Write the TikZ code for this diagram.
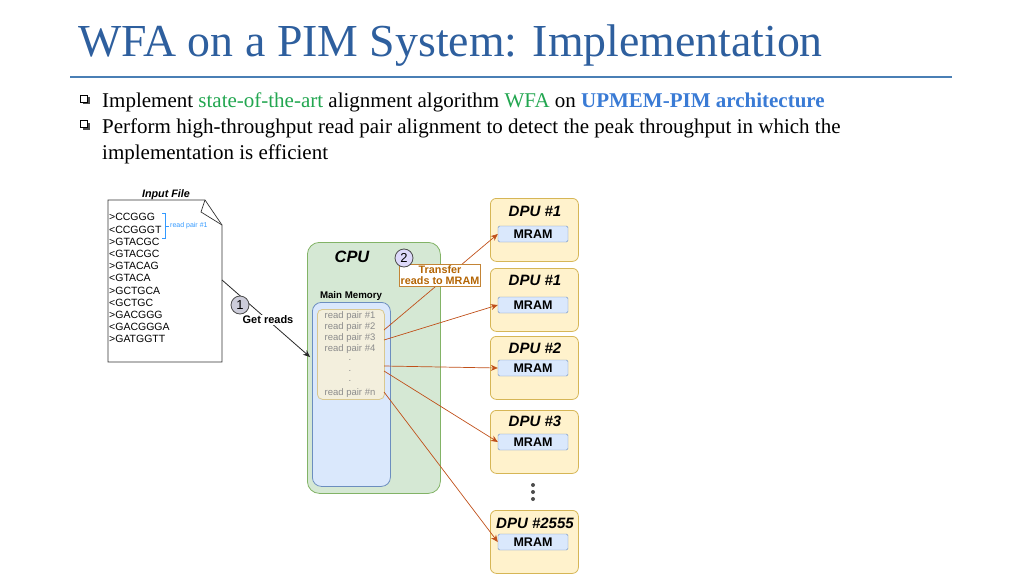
\documentclass[tikz,border=0pt]{standalone}
\usepackage{fontspec}
\setmainfont{Liberation Serif}
\newfontfamily\dsans{Liberation Sans}
\usetikzlibrary{arrows.meta}
\definecolor{ttl}{HTML}{2E5F9E}
\definecolor{rule}{HTML}{4A7FB5}
\definecolor{grn}{HTML}{22A650}
\definecolor{ublue}{HTML}{3A7BD5}
\definecolor{cpuf}{HTML}{D5E8D4}\definecolor{cpud}{HTML}{82B366}
\definecolor{memf}{HTML}{DAE8FC}\definecolor{memd}{HTML}{6C8EBF}
\definecolor{rpf}{HTML}{F3EFDD}\definecolor{rpd}{HTML}{D9C88F}
\definecolor{dpuf}{HTML}{FFF2CC}\definecolor{dpud}{HTML}{D6B656}
\definecolor{org}{HTML}{C0501A}\definecolor{orgt}{HTML}{B46504}
\definecolor{lnk}{HTML}{3399FF}
\begin{document}
\begin{tikzpicture}[x=1pt,y=-1pt,
  dpubox/.style={draw=dpud,fill=dpuf,rounded corners=6pt,line width=0.8pt},
  mrambox/.style={draw=memd,fill=memf,rounded corners=1.5pt,minimum width=70pt,minimum height=16pt,inner sep=0pt,font=\dsans\bfseries\fontsize{12.5}{12.5}\selectfont},
  dputitle/.style={font=\dsans\bfseries\itshape\fontsize{15}{15}\selectfont},
  rp/.style={font=\dsans\fontsize{9.5}{9.5}\selectfont,text=gray!90,inner sep=0pt},
  seq/.style={font=\dsans\fontsize{10.5}{10.5}\selectfont,anchor=west,inner sep=0pt},
  oarr/.style={draw=org,line width=0.7pt,-{Stealth[length=7pt,width=6pt]}},
  num/.style={circle,draw=black!70,line width=0.8pt,minimum size=18pt,inner sep=0pt,font=\dsans\fontsize{13}{13}\selectfont},
  bul/.style={draw=black,line width=0.7pt,minimum size=7pt,inner sep=0pt,fill=white}]
\useasboundingbox (0,0) rectangle (1024,575);
\node[anchor=base west,text=ttl,font=\fontsize{45.8}{46}\selectfont,inner sep=0pt] (title) at (78,57) {WFA on a PIM System: Implementation};
\draw[rule,line width=1.5pt] (70,77) -- (952,77);
\fill[black!70] (82.5,97.5) rectangle (89.5,104.5);
\node[bul] (b1) at (84,99) {};
\fill[black!70] (82.5,122.5) rectangle (89.5,129.5);
\node[bul] (b2) at (84,124) {};
\begin{scope}[every node/.style={anchor=base west,inner sep=0pt,font=\fontsize{21}{21}\selectfont}]
\node (t1) at (102,107) {Implement \textcolor{grn}{state-of-the-art} alignment algorithm \textcolor{grn}{WFA} on \textcolor{ublue}{\bfseries UPMEM-PIM architecture}};
\node (t2) at (102,133) {Perform high-throughput read pair alignment to detect the peak throughput in which the};
\node (t3) at (102,159) {implementation is efficient};
\end{scope}
% input file
\draw[black!80,line width=0.7pt] (108,200) -- (205,200) -- (222,225) -- (222,362) -- (108,362) -- cycle;
\draw[black!80,line width=0.7pt] (205,200) -- (201,212) -- (222,225);
\node[font=\dsans\bfseries\itshape\fontsize{10.8}{10.8}\selectfont,inner sep=0pt] (inf) at (166,195) {Input File};
\foreach \s [count=\i] in {>CCGGG,<CCGGGT,>GTACGC,<GTACGC,>GTACAG,<GTACA,>GCTGCA,<GCTGC,>GACGGG,<GACGGGA,>GATGGTT}
  \node[seq] (s\i) at (109,205+12.2*\i) {\s};
\draw[lnk,line width=0.8pt] (162,213) -- (165,213) -- (165,238) -- (162,238);
\draw[lnk,line width=0.6pt] (165,226) -- (169,226);
\node[anchor=west,text=lnk,font=\dsans\fontsize{7}{7}\selectfont,inner sep=0pt] (rpl) at (170,226) {read pair \#1};
% CPU
\node[draw=cpud,fill=cpuf,rounded corners=12pt,line width=0.8pt,minimum width=133pt,minimum height=251pt,anchor=north west] (cpu) at (307,242) {};
\node[font=\dsans\bfseries\itshape\fontsize{16.4}{16.4}\selectfont,inner sep=0pt] (cput) at (352,257) {CPU};
\node[font=\dsans\bfseries\fontsize{9.7}{9.7}\selectfont,inner sep=0pt] (mmt) at (351,296) {Main Memory};
\node[draw=memd,fill=memf,rounded corners=9pt,line width=0.8pt,minimum width=78pt,minimum height=184pt,anchor=north west] (mem) at (312,302) {};
\node[draw=rpd,fill=rpf,rounded corners=5pt,line width=0.8pt,minimum width=67pt,minimum height=90pt,anchor=north west] (rps) at (317,309) {};
\node[rp] (r1) at (350,316) {read pair \#1};
\node[rp] (r2) at (350,327) {read pair \#2};
\node[rp] (r3) at (350,338) {read pair \#3};
\node[rp] (r4) at (350,349) {read pair \#4};
\node[rp] (d1) at (350,360) {.};
\node[rp] (d2) at (350,371) {.};
\node[rp] (d3) at (350,381) {.};
\node[rp] (rn) at (350,393) {read pair \#n};
% DPUs
\foreach \n/\t/\y/\m/\lab in {p1/198/211/234/DPU \#1, p2/268/280/305/DPU \#1, p3/336/348/368/DPU \#2, p4/410/421/442/DPU \#3, p5/510/523/542/DPU \#2555}{
  \node[dpubox,minimum width=88pt,minimum height=63pt,anchor=north west] (\n) at (490,\t) {};
  \node[dputitle,inner sep=0pt] (\n t) at (535,\y) {\lab};
  \node[mrambox] (\n m) at (533,\m) {MRAM};
}
\foreach \yy [count=\k] in {485,492,499} \fill[black!70] (533,\yy) circle (2pt) coordinate (dot\k);
% arrows
\coordinate (o1) at (384,330);
\coordinate (o2) at (384,340);
\coordinate (o3) at (384,366);
\coordinate (o4) at (384,371);
\coordinate (o5) at (384,392);
\draw[oarr] (o1) -- (p1m.west);
\draw[oarr] (o2) -- (p2m.west);
\draw[oarr] (o3) -- (p3m.west);
\draw[oarr] (o4) -- (p4m.west);
\draw[oarr] (o5) -- (p5m.west);
\node[draw=orgt!80,fill=white,line width=0.7pt,align=center,text=orgt,font=\dsans\bfseries\fontsize{10.8}{11.5}\selectfont,inner sep=1.2pt] (tr) at (440,275) {Transfer\\reads to MRAM};
\node[num,fill=purple!15!blue!15] (n2) at (404,258) {2};
% get reads
\coordinate (fi) at (222,280);
\draw[black!85,line width=0.8pt,-{Stealth[length=7pt,width=6pt]}] (fi) -- (310,357);
\node[fill=white,font=\dsans\bfseries\fontsize{11}{11}\selectfont,inner sep=1pt] (gr) at (268,320) {Get reads};
\node[num,fill=blue!15!gray!35] (n1) at (240,305) {1};
\end{tikzpicture}
\end{document}
